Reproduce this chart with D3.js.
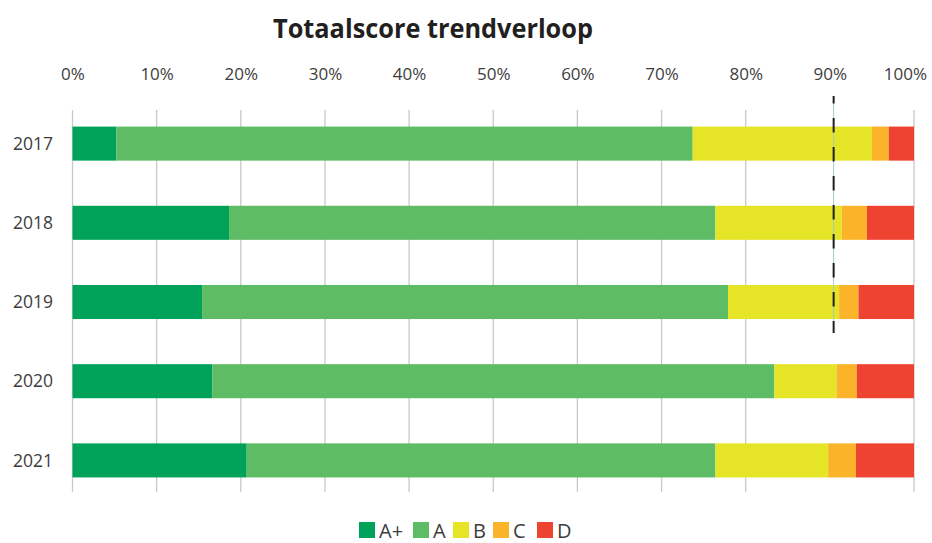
<!DOCTYPE html>
<html>
<head>
<meta charset="utf-8">
<script src="https://cdn.jsdelivr.net/npm/d3@7"></script>
<style>
  html, body { margin: 0; padding: 0; background: #fff; }
  svg { display: block; font-family: "Open Sans", sans-serif; }
</style>
</head>
<body>
<svg id="chart" width="932" height="543"></svg>
<script>
const title = "Totaalscore trendverloop";
const years = ["2017", "2018", "2019", "2020", "2021"];
const seriesNames = ["A+", "A", "B", "C", "D"];
const seriesColors = ["#00a25a", "#5ebc64", "#e5e427", "#fbb42a", "#ee4331"];
const valuesAplus = [5.2, 18.6, 15.4, 16.6, 20.7];
const valuesA     = [68.5, 57.8, 62.5, 66.8, 55.7];
const valuesB     = [21.3, 15.0, 13.2, 7.4, 13.4];
const valuesC     = [2.0, 3.0, 2.3, 2.4, 3.3];
const valuesD     = [3.0, 5.6, 6.6, 6.8, 6.9];
const tickValues = [0, 10, 20, 30, 40, 50, 60, 70, 80, 90, 100];
const tickLabels = ["0%", "10%", "20%", "30%", "40%", "50%", "60%", "70%", "80%", "90%", "100%"];
const targetValue = 90.45;

const seriesValues = [valuesAplus, valuesA, valuesB, valuesC, valuesD];
const rows = years.map((y, i) => {
  const r = { year: y };
  seriesNames.forEach((s, k) => r[s] = seriesValues[k][i]);
  return r;
});

const svg = d3.select("#chart");
const x = d3.scaleLinear().domain([0, 100]).range([72.5, 914]);
const y = d3.scaleBand().domain(years).range([104, 500]).paddingInner(0.57).paddingOuter(0.285);
const gridTop = 110, gridBottom = 492;

// title
svg.append("text")
  .attr("x", 273).attr("y", 38)
  .attr("font-size", 27).attr("font-weight", 700)
  .attr("fill", "#231f20")
  .attr("textLength", 320).attr("lengthAdjust", "spacingAndGlyphs")
  .text(title);

// gridlines (no 90% gridline visible in reference)
svg.append("g").selectAll("line")
  .data(tickValues.filter(v => v !== 90))
  .join("line")
  .attr("x1", d => x(d)).attr("x2", d => x(d))
  .attr("y1", gridTop).attr("y2", gridBottom)
  .attr("stroke", "#c8c8c8").attr("stroke-width", 1.3);

// top axis
const axis = d3.axisTop(x).tickValues(tickValues).tickSize(0).tickPadding(0)
  .tickFormat((d, i) => tickLabels[i]);
const ag = svg.append("g").attr("transform", "translate(0,80)").call(axis);
ag.select(".domain").remove();
ag.selectAll("text")
  .attr("font-size", 17).attr("fill", "#3d3d3d")
  .attr("font-family", "'Open Sans', sans-serif")
  .attr("dy", 0);
ag.selectAll("text").each(function() {
  const bb = this.getBBox();
  const tr = this.parentNode.getAttribute("transform");
  const tx = +tr.match(/translate\(([-\d.]+)/)[1];
  const right = tx + bb.x + bb.width;
  if (right > 927) d3.select(this).attr("x", 927 - right);
});

// stacked bars
const stack = d3.stack().keys(seriesNames)(rows);
const color = d3.scaleOrdinal().domain(seriesNames).range(seriesColors);
svg.append("g").selectAll("g")
  .data(stack).join("g")
  .attr("fill", d => color(d.key))
  .selectAll("rect")
  .data(d => d).join("rect")
  .attr("x", d => x(d[0]))
  .attr("width", d => x(d[1]) - x(d[0]))
  .attr("y", d => y(d.data.year))
  .attr("height", y.bandwidth());

// year labels
svg.append("g").selectAll("text")
  .data(years).join("text")
  .attr("x", 53).attr("y", d => y(d) + y.bandwidth() / 2)
  .attr("dy", "0.35em")
  .attr("text-anchor", "end")
  .attr("font-size", 17.5).attr("fill", "#3d3d3d")
  .text(d => d);

// target dashed line
svg.append("line")
  .attr("x1", x(targetValue)).attr("x2", x(targetValue))
  .attr("y1", 96).attr("y2", 333)
  .attr("stroke", "#a9cbc3").attr("stroke-width", 1);
svg.append("line")
  .attr("x1", x(targetValue)).attr("x2", x(targetValue))
  .attr("y1", 96).attr("y2", 333)
  .attr("stroke", "#222").attr("stroke-width", 2)
  .attr("stroke-dasharray", "14.5,14.5")
  .attr("stroke-dashoffset", 7);

// legend
const legendX = [359, 413, 453, 493, 537];
const lg = svg.append("g").selectAll("g")
  .data(seriesNames).join("g")
  .attr("transform", (d, i) => `translate(${legendX[i]},522)`);
lg.append("rect").attr("width", 16).attr("height", 16).attr("fill", d => color(d));
lg.append("text")
  .attr("x", 20).attr("y", 16)
  .attr("font-size", 20).attr("fill", "#3d3d3d")
  .text(d => d);
</script>
</body>
</html>
